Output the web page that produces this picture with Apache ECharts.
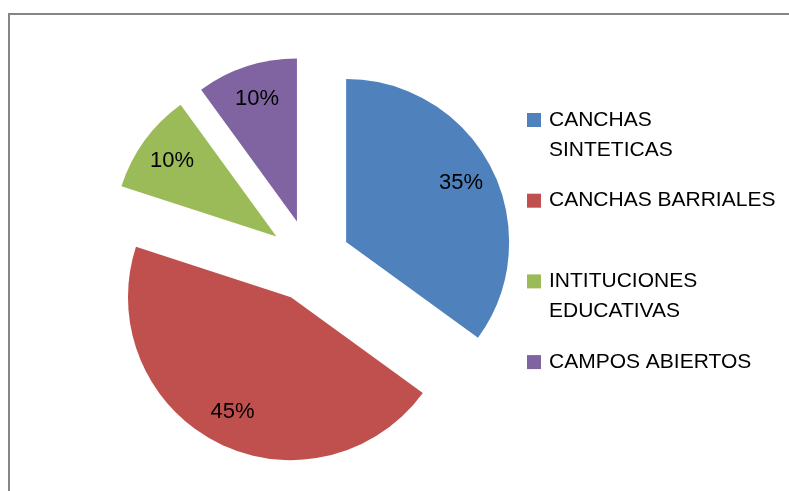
<!DOCTYPE html>
<html>
<head>
<meta charset="utf-8">
<script src="https://cdn.jsdelivr.net/npm/echarts@6/dist/echarts.min.js"></script>
<style>
  html, body { margin: 0; padding: 0; background: #fff; }
  #chart { width: 789px; height: 491px; }
</style>
</head>
<body>
<div id="chart"></div>
<script>
// categorias y porcentajes
const categorias = ['CANCHAS SINTETICAS', 'CANCHAS BARRIALES', 'INTITUCIONES EDUCATIVAS', 'CAMPOS ABIERTOS']
const porcentajes = [35, 45, 10, 10]

const datos = categorias.map((nombre, i) => ({ name: nombre, value: porcentajes[i], selected: true }))

const chart = echarts.init(document.getElementById('chart'))
const centro = [309.6, 260.6]

const option = {
  animation: false,
  backgroundColor: '#fff',
  color: ['#4F81BD', '#C0504D', '#9BBB59', '#8064A2'],
  textStyle: { fontFamily: 'Liberation Sans' },
  graphic: [{
    type: 'rect',
    silent: true,
    shape: { x: 9, y: 14, width: 800, height: 500 },
    style: { fill: 'none', stroke: '#868686', lineWidth: 2 }
  }],
  legend: {
    orient: 'vertical',
    left: 527,
    top: 75,
    padding: 0,
    itemGap: 20.7,
    itemWidth: 14,
    itemHeight: 14,
    icon: 'rect',
    selectedMode: false,
    data: categorias,
    formatter: function (name) {
      // nombres largos en dos lineas, el cuadro alineado con la primera
      if (name === 'CANCHAS SINTETICAS') return '\nCANCHAS\nSINTETICAS'
      if (name === 'INTITUCIONES EDUCATIVAS') return '\nINTITUCIONES\nEDUCATIVAS'
      return name
    },
    textStyle: {
      fontFamily: 'Liberation Sans',
      fontSize: 21,
      lineHeight: 30,
      color: '#000',
      padding: [0, 0, 0, 3]
    }
  },
  series: [
    {
      type: 'pie',
      center: centro,
      radius: 163,
      startAngle: 90,
      clockwise: true,
      selectedMode: 'multiple',
      selectedOffset: 41,
      silent: true,
      label: { show: false },
      labelLine: { show: false },
      emphasis: { disabled: true },
      data: datos
    },
    {
      // serie transparente solo para ubicar las etiquetas de porcentaje
      type: 'pie',
      z: 5,
      center: centro,
      radius: 252,
      startAngle: 90,
      clockwise: true,
      selectedMode: 'multiple',
      selectedOffset: 41,
      silent: true,
      itemStyle: { color: 'rgba(0,0,0,0)' },
      label: {
        show: true,
        position: 'inside',
        formatter: '{c}%',
        fontFamily: 'Liberation Sans',
        fontSize: 22,
        color: '#000'
      },
      labelLine: { show: false },
      emphasis: { disabled: true },
      data: datos
    }
  ]
}

chart.setOption(option)
</script>
</body>
</html>
